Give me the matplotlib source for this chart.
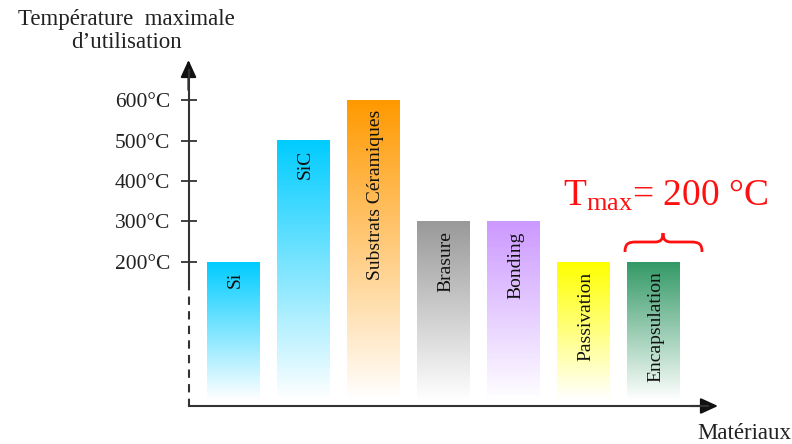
import numpy as np
import matplotlib
matplotlib.use("Agg")
import matplotlib.pyplot as plt
from matplotlib.colors import to_rgb
from matplotlib.path import Path
from matplotlib.patches import PathPatch, FancyArrowPatch

plt.rcParams["font.family"] = ["Liberation Serif", "DejaVu Serif"]
plt.rcParams["mathtext.fontset"] = "custom"
plt.rcParams["mathtext.rm"] = "Liberation Serif"
plt.rcParams["mathtext.it"] = "Liberation Serif:italic"

# Data
materials = ["Si", "SiC", "Substrats Céramiques", "Brasure", "Bonding",
             "Passivation", "Encapsulation"]
tmax = [200, 500, 600, 300, 300, 200, 200]
bar_colors = ["#00CCFF", "#00CCFF", "#FF9900", "#999999", "#CC99FF",
              "#FFFF00", "#339966"]
tick_values = [200, 300, 400, 500, 600]
tick_labels = ["200°C", "300°C", "400°C", "500°C", "600°C"]

BASE = -140          # bottom of the (broken) temperature axis
W = 0.757            # bar width

fig = plt.figure(figsize=(7.92, 4.44), dpi=100)

# overlay in pixel coordinates for arrows, brace and free text
ov = fig.add_axes([0, 0, 1, 1])
ov.set_xlim(0, 792)
ov.set_ylim(444, 0)
ov.axis("off")

# data axes: left edge on the y axis line, bottom on the x axis line
x_axis_px, y_axis_px, top_px, right_px = 188.5, 406, 60, 718
ax = fig.add_axes([x_axis_px / 792, (444 - y_axis_px) / 444,
                   (right_px - x_axis_px) / 792, (y_axis_px - top_px) / 444])
ax.patch.set_alpha(0)

for i, (v, c) in enumerate(zip(tmax, bar_colors)):
    rgb = np.array(to_rgb(c))
    t = np.linspace(0, 1, 256)[:, None, None]
    img = 1 - (1 - rgb[None, None, :]) * t
    ax.imshow(img, extent=(i - W / 2, i + W / 2, BASE, v), origin="lower",
              aspect="auto", interpolation="bilinear", zorder=2)
    ax.text(i + 0.03, v - 24, materials[i], rotation=90, ha="center",
            va="top", fontsize=14, color="#111111", zorder=3)

ax.set_xlim(-0.643, 6.921)
ax.set_ylim(-155.6, 698.8)
for s in ax.spines.values():
    s.set_visible(False)
ax.set_xticks([])
ax.set_yticks(tick_values)
ax.set_yticklabels(tick_labels)
ax.tick_params(axis="y", direction="inout", length=12, width=1.3,
               color="#333333", labelsize=15.5, pad=7, labelcolor="#222222")

# axis lines (solid upper part, dashed broken part, arrows)
axis_col = "#333333"
ov.plot([x_axis_px, x_axis_px], [282, 70], color=axis_col, lw=1.5)
ov.plot([x_axis_px, x_axis_px], [282, y_axis_px], color=axis_col, lw=1.5,
        ls=(0, (4, 3)))
ov.add_patch(FancyArrowPatch((x_axis_px, 90), (x_axis_px, top_px),
                             arrowstyle="-|>,head_length=7,head_width=3.2",
                             color="#111111", lw=1.5, mutation_scale=1.5,
                             shrinkA=0, shrinkB=0))
ov.plot([x_axis_px, 708], [y_axis_px, y_axis_px], color=axis_col, lw=1.5)
ov.add_patch(FancyArrowPatch((690, y_axis_px), (right_px, y_axis_px),
                             arrowstyle="-|>,head_length=7,head_width=3.2",
                             color="#111111", lw=1.5, mutation_scale=1.5,
                             shrinkA=0, shrinkB=0))

# axis titles
ov.text(126, 20, "Température  maximale", ha="center", va="center",
        fontsize=16.5, color="#222222")
ov.text(126, 43, "d’utilisation", ha="center", va="center",
        fontsize=16.5, color="#222222")
ov.text(791, 433, "Matériaux", ha="right", va="center",
        fontsize=16.5, color="#222222")

# limit annotation with brace
red = "#FF1010"
ov.text(563, 206, r"T$_{\mathrm{max}}$= 200 °C", ha="left", va="baseline",
        fontsize=27, color=red)
verts = [(625, 252),
         (625, 244), (628, 242), (636, 242),
         (655, 242),
         (660, 242), (663, 240), (663, 233),
         (663, 240), (666, 242), (671, 242),
         (691, 242),
         (699, 242), (702, 244), (702, 252)]
codes = [Path.MOVETO,
         Path.CURVE4, Path.CURVE4, Path.CURVE4,
         Path.LINETO,
         Path.CURVE4, Path.CURVE4, Path.CURVE4,
         Path.CURVE4, Path.CURVE4, Path.CURVE4,
         Path.LINETO,
         Path.CURVE4, Path.CURVE4, Path.CURVE4]
ov.add_patch(PathPatch(Path(verts, codes), fill=False, edgecolor=red, lw=2))

fig.savefig("out.png", dpi=100)
